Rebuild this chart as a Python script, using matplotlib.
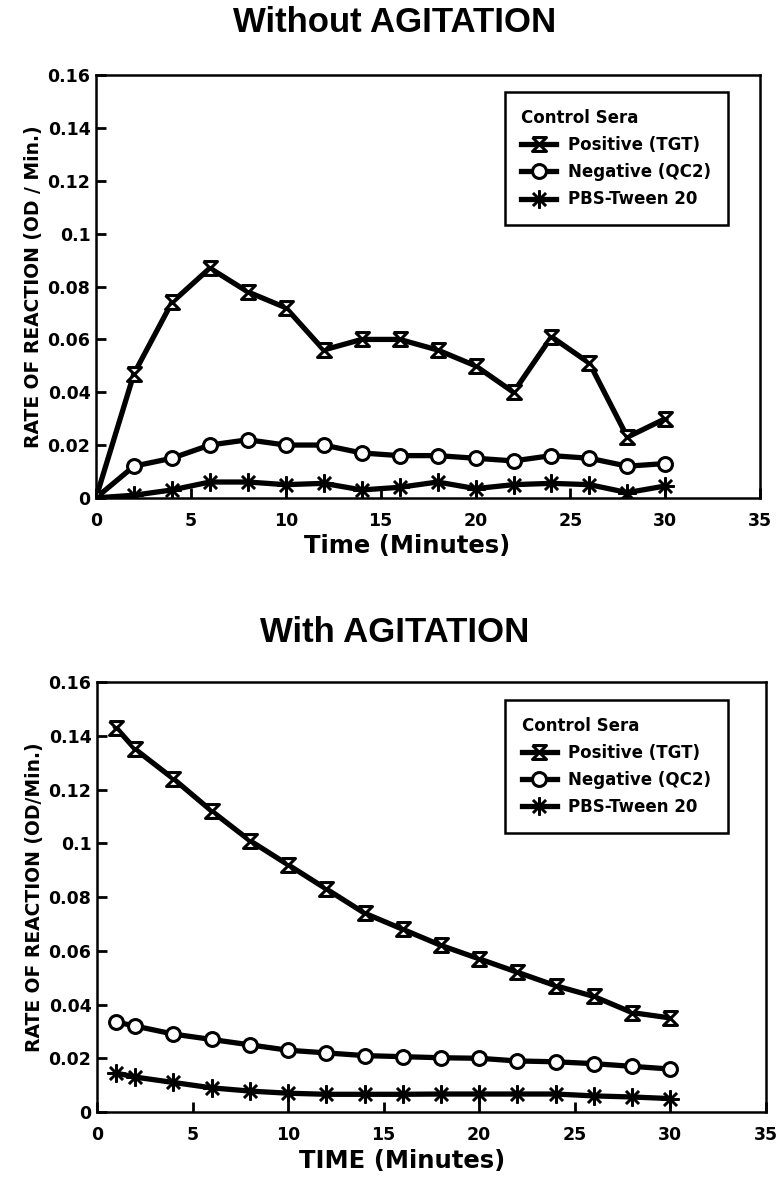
import numpy as np
import matplotlib.pyplot as plt
from matplotlib.path import Path

plt.rcParams['font.family'] = ['DejaVu Sans']
plt.rcParams['font.weight'] = 'bold'

# data
time_still = [0, 2, 4, 6, 8, 10, 12, 14, 16, 18, 20, 22, 24, 26, 28, 30]
pos_still = [0, 0.047, 0.074, 0.087, 0.078, 0.072, 0.056, 0.060, 0.060,
             0.056, 0.050, 0.040, 0.061, 0.051, 0.023, 0.030]
neg_still = [0, 0.012, 0.015, 0.020, 0.022, 0.020, 0.020, 0.017, 0.016,
             0.016, 0.015, 0.014, 0.016, 0.015, 0.012, 0.013]
pbs_still = [0, 0.001, 0.003, 0.006, 0.006, 0.005, 0.0055, 0.003, 0.004,
             0.006, 0.0035, 0.005, 0.0055, 0.005, 0.002, 0.0045]

time_shaken = [1, 2, 4, 6, 8, 10, 12, 14, 16, 18, 20, 22, 24, 26, 28, 30]
pos_shaken = [0.143, 0.135, 0.124, 0.112, 0.101, 0.092, 0.083, 0.074, 0.068,
              0.062, 0.057, 0.052, 0.047, 0.043, 0.037, 0.035]
neg_shaken = [0.0335, 0.032, 0.029, 0.027, 0.025, 0.023, 0.022, 0.021, 0.0206,
              0.0202, 0.020, 0.019, 0.0187, 0.018, 0.017, 0.016]
pbs_shaken = [0.0145, 0.013, 0.011, 0.009, 0.0078, 0.007, 0.0066, 0.0066, 0.0066,
              0.0067, 0.0067, 0.0067, 0.0067, 0.006, 0.0056, 0.005]

series_names = ['Positive (TGT)', 'Negative (QC2)', 'PBS-Tween 20']
y_ticks = [0, 0.02, 0.04, 0.06, 0.08, 0.1, 0.12, 0.14, 0.16]
y_labels = ['0', '0.02', '0.04', '0.06', '0.08', '0.1', '0.12', '0.14', '0.16']
x_ticks = [0, 5, 10, 15, 20, 25, 30, 35]

hourglass = Path([(-1, 1), (1, 1), (-1, -1), (1, -1), (-1, 1)])


def panel(ax, t, pos, neg, pbs, xlabel, ylabel, legend_xy, xlabel_x):
    lw = 3.8
    ax.plot(t, pos, color='black', lw=lw, marker=hourglass, ms=10,
            mfc='white', mec='black', mew=2.2, label=series_names[0])
    ax.plot(t, neg, color='black', lw=lw, marker='o', ms=10,
            mfc='white', mec='black', mew=2.2, label=series_names[1])
    ax.plot(t, pbs, color='black', lw=lw, marker=(8, 2, 0), ms=13,
            mec='black', mew=1.8, label=series_names[2])
    ax.set_xlim(0, 35)
    ax.set_ylim(0, 0.16)
    ax.set_xticks(x_ticks)
    ax.set_yticks(y_ticks)
    ax.set_yticklabels(y_labels)
    ax.tick_params(direction='in', length=7, width=2, labelsize=12.5)
    ax.tick_params(axis='x', pad=10)
    ax.tick_params(axis='y', pad=4)
    for s in ax.spines.values():
        s.set_linewidth(1.8)
    ax.set_xlabel(xlabel, fontsize=17.5, fontweight='bold')
    ax.xaxis.set_label_coords(xlabel_x, -0.085)
    ax.set_ylabel(ylabel, fontsize=13.5, fontweight='bold', labelpad=3)
    leg = ax.legend(loc='upper left', bbox_to_anchor=legend_xy,
                    title='Control Sera', fontsize=12, fancybox=False,
                    edgecolor='black', framealpha=1, handlelength=2.1,
                    handletextpad=0.7, borderpad=1.0, labelspacing=0.55,
                    alignment='left', borderaxespad=0)
    leg.get_frame().set_linewidth(1.8)
    leg.get_title().set_fontweight('bold')
    leg.get_title().set_fontsize(12)


fig = plt.figure(figsize=(7.76, 11.77), dpi=100)
ax1 = fig.add_axes([0.1237, 0.577, 0.856, 0.359])
ax2 = fig.add_axes([0.125, 0.0552, 0.862, 0.3653])

panel(ax1, time_still, pos_still, neg_still, pbs_still,
      'Time (Minutes)', 'RATE OF REACTION (OD / Min.)', (0.615, 0.96), 0.468)
panel(ax2, time_shaken, pos_shaken, neg_shaken, pbs_shaken,
      'TIME (Minutes)', 'RATE OF REACTION (OD/Min.)', (0.61, 0.958), 0.456)

title_font = dict(family=['Liberation Sans', 'DejaVu Sans'], fontsize=25,
                  fontweight='bold', ha='center', va='center')
fig.text(0.509, 1 - 22 / 1177, 'Without AGITATION', **title_font)
fig.text(0.509, 1 - 632 / 1177, 'With AGITATION', **title_font)

fig.savefig('out.png', dpi=100)
